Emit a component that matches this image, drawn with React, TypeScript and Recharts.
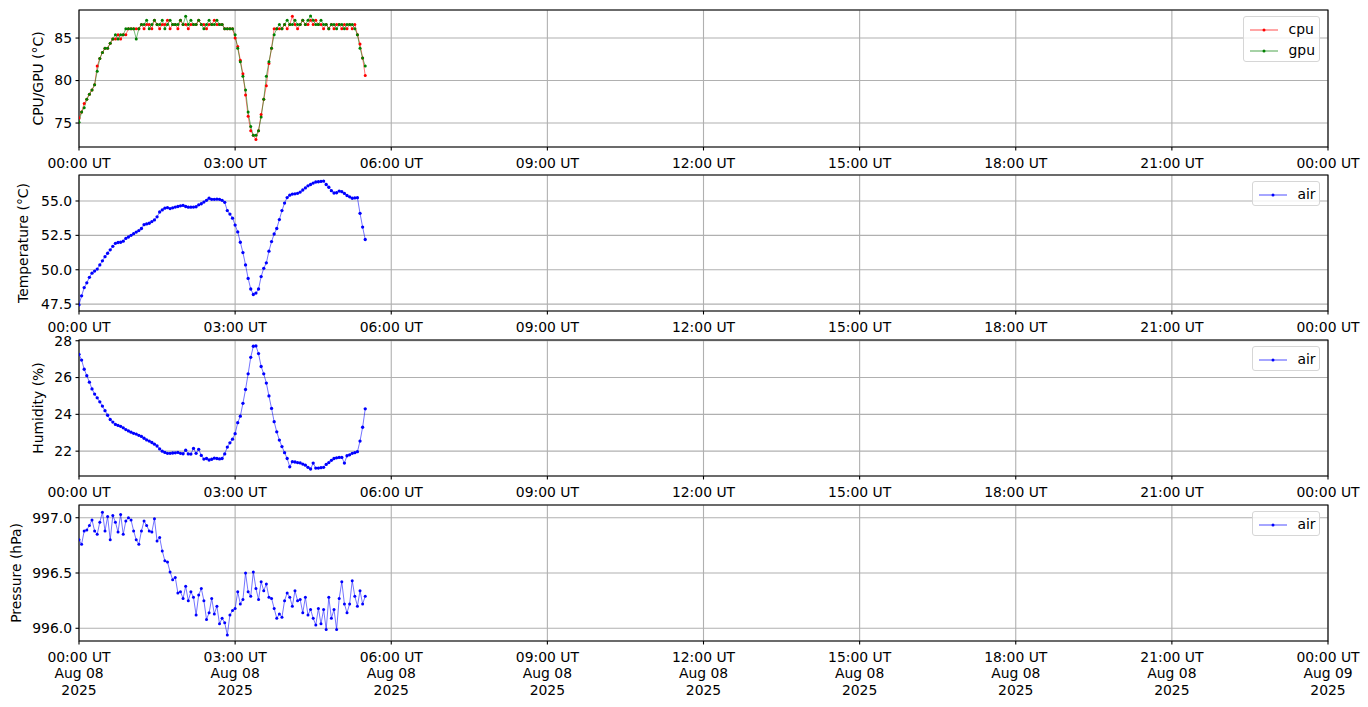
import React from 'react';
import { LineChart, Line, XAxis, YAxis, CartesianGrid, ReferenceArea, Legend } from 'recharts';

const FONT = "'DejaVu Sans', sans-serif";
const FS = 13.9;

// sample times, minutes after 00:00 UT, Aug 08 2025
const minutes = [
  0, 3, 6, 9, 12, 15, 18, 21, 24, 27,
  30, 33, 36, 39, 42, 45, 48, 51, 54, 57,
  60, 63, 66, 69, 72, 75, 78, 81, 84, 87,
  90, 93, 96, 99, 102, 105, 108, 111, 114, 117,
  120, 123, 126, 129, 132, 135, 138, 141, 144, 147,
  150, 153, 156, 159, 162, 165, 168, 171, 174, 177,
  180, 183, 186, 189, 192, 195, 198, 201, 204, 207,
  210, 213, 216, 219, 222, 225, 228, 231, 234, 237,
  240, 243, 246, 249, 252, 255, 258, 261, 264, 267,
  270, 273, 276, 279, 282, 285, 288, 291, 294, 297,
  300, 303, 306, 309, 312, 315, 318, 321, 324, 327,
  330,
];

const cpuTemp = [
  75.6, 76.3, 77.3, 77.8, 78.4, 78.9, 79.5, 81.7, 82.6, 83.3,
  83.8, 83.8, 84.4, 84.9, 84.9, 85.4, 84.9, 85.4, 85.4, 86.1,
  86.1, 86.1, 86.1, 86.1, 86.6, 86.1, 86.6, 86.6, 86.1, 87.1,
  86.6, 86.1, 86.6, 86.6, 87.1, 86.1, 86.6, 86.6, 86.1, 87.1,
  86.6, 86.6, 86.1, 86.6, 86.6, 86.6, 87.1, 86.6, 86.6, 86.1,
  86.6, 86.6, 87.1, 86.6, 86.6, 86.6, 86.1, 86.1, 86.1, 86.1,
  85.0, 84.0, 82.4, 80.8, 78.3, 75.8, 74.1, 73.55, 73.05, 74.1,
  76.0, 77.8, 79.4, 82.0, 83.8, 86.1, 86.1, 86.1, 86.1, 86.6,
  86.1, 86.6, 87.55, 86.6, 86.1, 86.6, 87.1, 86.6, 86.6, 87.1,
  86.6, 87.1, 86.6, 86.6, 86.1, 86.6, 86.1, 86.6, 86.1, 86.6,
  86.6, 86.1, 86.6, 86.1, 86.6, 86.1, 86.6, 85.4, 84.3, 82.65,
  80.6,
];

const gpuTemp = [
  75.1, 76.3, 76.8, 77.8, 78.4, 78.9, 79.5, 81.1, 82.6, 83.3,
  83.8, 83.8, 84.4, 84.9, 85.4, 84.9, 85.4, 85.4, 86.1, 86.1,
  86.1, 86.1, 84.9, 86.1, 86.6, 86.6, 87.1, 86.1, 86.6, 87.1,
  86.6, 86.6, 87.1, 86.1, 86.6, 87.1, 86.6, 86.6, 86.6, 87.1,
  86.6, 87.55, 86.6, 87.1, 86.6, 86.6, 87.1, 86.6, 86.1, 86.6,
  87.1, 86.6, 86.6, 87.1, 86.6, 86.6, 86.1, 86.1, 86.1, 86.1,
  85.4, 83.8, 82.2, 80.5, 78.9, 76.3, 74.6, 73.55, 73.55, 74.1,
  75.7, 77.8, 80.5, 82.2, 83.8, 85.4, 86.1, 86.6, 86.1, 86.6,
  87.1, 86.6, 86.6, 87.1, 86.6, 86.6, 87.1, 86.6, 87.1, 87.6,
  87.1, 86.6, 86.6, 87.1, 86.6, 86.6, 86.1, 86.6, 86.6, 86.1,
  86.6, 86.6, 86.1, 86.6, 86.6, 86.6, 86.1, 85.4, 83.8, 82.65,
  81.7,
];

const airTemp = [
  47.45, 48.1, 48.7, 49.05, 49.45, 49.75, 49.9, 50.05, 50.35, 50.65,
  50.95, 51.2, 51.45, 51.7, 51.92, 51.98, 52.0, 52.08, 52.28, 52.38,
  52.5, 52.62, 52.74, 52.85, 53.0, 53.28, 53.33, 53.38, 53.5, 53.62,
  53.85, 54.2, 54.35, 54.48, 54.52, 54.45, 54.5, 54.56, 54.6, 54.65,
  54.68, 54.6, 54.55, 54.55, 54.56, 54.58, 54.72, 54.8, 54.92, 55.05,
  55.2, 55.12, 55.12, 55.13, 55.12, 55.05, 54.9, 54.3, 54.05, 53.75,
  53.25, 52.75, 52.0, 51.25, 50.35, 49.37, 48.6, 48.2, 48.3, 48.6,
  49.5, 50.1, 50.5, 51.35, 52.05, 52.6, 53.0, 53.65, 54.3, 54.85,
  55.25, 55.42, 55.5, 55.52, 55.56, 55.65, 55.8, 55.95, 56.1, 56.2,
  56.3, 56.38, 56.4, 56.42, 56.45, 56.2, 56.0, 55.75, 55.58, 55.6,
  55.72, 55.68, 55.55, 55.4, 55.3, 55.2, 55.22, 55.24, 54.1, 53.1,
  52.2,
];

const airHumidity = [
  27.26, 26.95, 26.45, 26.1, 25.75, 25.38, 25.1, 24.9, 24.68, 24.45,
  24.2, 23.95, 23.72, 23.58, 23.45, 23.4, 23.35, 23.27, 23.17, 23.1,
  23.03, 22.97, 22.93, 22.86, 22.8, 22.7, 22.61, 22.55, 22.47, 22.38,
  22.28, 22.12, 22.0, 21.93, 21.88, 21.88, 21.9, 21.91, 21.93, 21.88,
  21.86, 22.05, 21.85, 21.84, 22.15, 21.88, 22.1, 21.77, 21.57, 21.6,
  21.52, 21.56, 21.62, 21.6, 21.58, 21.6, 21.85, 22.22, 22.45, 22.65,
  22.95, 23.55, 23.9, 24.6, 25.35, 26.2, 27.1, 27.7, 27.72, 27.3,
  26.6, 26.2, 25.7, 25.0, 24.32, 23.6, 23.05, 22.6, 22.25, 21.92,
  21.6, 21.15, 21.43, 21.41, 21.38, 21.36, 21.3, 21.24, 21.12, 21.03,
  21.35, 21.08, 21.08, 21.1, 21.12, 21.28, 21.38, 21.5, 21.6, 21.64,
  21.66, 21.66, 21.35, 21.75, 21.8, 21.88, 21.92, 21.97, 22.55, 23.3,
  24.3,
];

const airPressure = [
  996.80, 996.76, 996.88, 996.89, 996.93, 996.98, 996.88, 996.85, 996.96, 997.05,
  996.88, 997.01, 996.80, 997.02, 996.96, 996.87, 997.03, 996.85, 996.97, 997.00,
  996.98, 996.88, 996.80, 996.76, 996.88, 996.97, 996.93, 996.88, 996.87, 996.99,
  996.79, 996.82, 996.70, 996.61, 996.60, 996.51, 996.44, 996.46, 996.32, 996.33,
  996.27, 996.38, 996.25, 996.33, 996.28, 996.12, 996.30, 996.36, 996.25, 996.08,
  996.14, 996.27, 996.13, 996.20, 996.04, 996.09, 996.05, 995.94, 996.12, 996.16,
  996.18, 996.33, 996.22, 996.26, 996.50, 996.33, 996.29, 996.51, 996.36, 996.26,
  996.42, 996.34, 996.40, 996.28, 996.27, 996.18, 996.09, 996.13, 996.10, 996.25,
  996.32, 996.28, 996.20, 996.34, 996.25, 996.26, 996.14, 996.28, 996.12, 996.17,
  996.09, 996.03, 996.18, 996.04, 996.17, 995.99, 996.28, 996.09, 996.17, 995.99,
  996.27, 996.42, 996.22, 996.14, 996.22, 996.43, 996.29, 996.20, 996.34, 996.22,
  996.29,
];

const tickHours = [0, 3, 6, 9, 12, 15, 18, 21, 24];
const timeLabels = ['00:00 UT', '03:00 UT', '06:00 UT', '09:00 UT', '12:00 UT', '15:00 UT', '18:00 UT', '21:00 UT', '00:00 UT'];
const dateLabels = ['Aug 08', 'Aug 08', 'Aug 08', 'Aug 08', 'Aug 08', 'Aug 08', 'Aug 08', 'Aug 08', 'Aug 09'];
const yearLabels = ['2025', '2025', '2025', '2025', '2025', '2025', '2025', '2025', '2025'];

const chipTicks = [75, 80, 85];
const tempTicks = [47.5, 50, 52.5, 55];
const humTicks = [22, 24, 26, 28];
const presTicks = [996, 996.5, 997];

const rows = minutes.map((m, i) => ({
  h: m / 60,
  cpu: cpuTemp[i],
  gpu: gpuTemp[i],
  temp: airTemp[i],
  hum: airHumidity[i],
  pres: airPressure[i],
}));

type Series = { key: string; name: string; color: string };

const makeXTick = (multi: boolean) => (props: any) => {
  const { x, y, payload } = props;
  const i = tickHours.indexOf(payload.value);
  return (
    <text x={x} y={y + 17.2} textAnchor="middle" fill="#000" fontSize={FS} fontFamily={FONT}>
      <tspan x={x}>{timeLabels[i]}</tspan>
      {multi ? <tspan x={x} dy={16.5}>{dateLabels[i]}</tspan> : null}
      {multi ? <tspan x={x} dy={16.5}>{yearLabels[i]}</tspan> : null}
    </text>
  );
};

const LegendBox = ({ series, width, height }: { series: Series[]; width: number; height: number }) => (
  <div
    style={{
      position: 'relative',
      width,
      height,
      boxSizing: 'border-box',
      border: '1px solid #d6d6d6',
      borderRadius: 3,
      background: 'rgba(255,255,255,0.8)',
      fontFamily: FONT,
      fontSize: FS,
      color: '#000',
    }}
  >
    {series.map((s, i) => (
      <div key={s.key} style={{ position: 'absolute', left: 0, top: 4.5 + i * 21.5, height: 16, width: '100%' }}>
        <svg width={30} height={16} style={{ position: 'absolute', left: 5.5, top: 0 }}>
          <line x1={0} y1={8} x2={28} y2={8} stroke={s.color} strokeWidth={0.7} />
          <circle cx={14} cy={8} r={1.5} fill={s.color} />
        </svg>
        <span style={{ position: 'absolute', left: 44.5, top: -1, lineHeight: '16px', whiteSpace: 'nowrap' }}>{s.name}</span>
      </div>
    ))}
  </div>
);

type PanelProps = {
  top: number;
  plotH: number;
  multi: boolean;
  domain: [number, number];
  ticks: number[];
  fmt: (v: number) => string;
  label: string;
  labelX: number;
  series: Series[];
  dotR: number;
  legendLeft: number;
  legendW: number;
  legendH: number;
};

const Panel = (p: PanelProps) => {
  const xh = p.multi ? 64 : 24;
  const mTop = 6;
  const height = mTop + p.plotH + xh;
  const cy = mTop + p.plotH / 2;
  return (
    <div style={{ position: 'absolute', left: 0, top: p.top - mTop, width: 1368, height }}>
      <LineChart width={1368} height={height} data={rows} margin={{ top: mTop, right: 40, left: 0, bottom: 0 }}>
        <CartesianGrid stroke="#b0b0b0" strokeWidth={1.1} />
        <XAxis
          dataKey="h"
          type="number"
          domain={[0, 24]}
          ticks={tickHours}
          interval={0}
          allowDataOverflow
          height={xh}
          axisLine={false}
          tickSize={3.5}
          tickMargin={0}
          tickLine={{ stroke: '#000', strokeWidth: 1.1 }}
          tick={makeXTick(p.multi)}
        />
        <YAxis
          type="number"
          domain={p.domain}
          ticks={p.ticks}
          interval={0}
          allowDataOverflow
          width={79}
          axisLine={false}
          tickSize={3.5}
          tickMargin={3.5}
          tickLine={{ stroke: '#000', strokeWidth: 1.1 }}
          tick={{ fill: '#000', fontSize: FS, fontFamily: FONT }}
          tickFormatter={p.fmt}
          label={() => (
            <text
              x={p.labelX}
              y={cy}
              transform={`rotate(-90, ${p.labelX}, ${cy})`}
              textAnchor="middle"
              fill="#000"
              fontSize={FS}
              fontFamily={FONT}
            >
              {p.label}
            </text>
          )}
        />
        {p.series.map((s) => (
          <Line
            key={s.key}
            type="linear"
            dataKey={s.key}
            name={s.name}
            stroke={s.color}
            strokeWidth={0.55}
            dot={{ r: p.dotR, fill: s.color, stroke: 'none', strokeWidth: 0 }}
            activeDot={false}
            isAnimationActive={false}
          />
        ))}
        <ReferenceArea
          x1={0}
          x2={24}
          y1={p.domain[0]}
          y2={p.domain[1]}
          fill="none"
          stroke="#000"
          strokeWidth={1.1}
          ifOverflow="visible"
        />
        <Legend
          layout="horizontal"
          verticalAlign="middle"
          align="center"
          wrapperStyle={{ left: p.legendLeft, top: mTop + 6, width: p.legendW, height: p.legendH }}
          content={() => <LegendBox series={p.series} width={p.legendW} height={p.legendH} />}
        />
      </LineChart>
    </div>
  );
};

const intFmt = (v: number) => String(Math.round(v));
const oneFmt = (v: number) => v.toFixed(1);

export default function App() {
  return (
    <div style={{ position: 'absolute', left: 0, top: 0, width: 1368, height: 707, background: '#fff', overflow: 'hidden' }}>
      <Panel
        top={10}
        plotH={137}
        multi={false}
        domain={[72.18, 88.3]}
        ticks={chipTicks}
        fmt={intFmt}
        label="CPU/GPU (°C)"
        labelX={42.7}
        series={[
          { key: 'cpu', name: 'cpu', color: '#ff0000' },
          { key: 'gpu', name: 'gpu', color: '#008000' },
        ]}
        dotR={1.5}
        legendLeft={1243}
        legendW={77}
        legendH={46}
      />
      <Panel
        top={175}
        plotH={136}
        multi={false}
        domain={[47.0, 56.89]}
        ticks={tempTicks}
        fmt={oneFmt}
        label="Temperature (°C)"
        labelX={27.7}
        series={[{ key: 'temp', name: 'air', color: '#0000ff' }]}
        dotR={1.65}
        legendLeft={1252}
        legendW={68}
        legendH={25}
      />
      <Panel
        top={340}
        plotH={136}
        multi={false}
        domain={[20.65, 28.04]}
        ticks={humTicks}
        fmt={intFmt}
        label="Humidity (%)"
        labelX={42.7}
        series={[{ key: 'hum', name: 'air', color: '#0000ff' }]}
        dotR={1.65}
        legendLeft={1252}
        legendW={68}
        legendH={25}
      />
      <Panel
        top={505}
        plotH={136}
        multi={true}
        domain={[995.885, 997.115]}
        ticks={presTicks}
        fmt={oneFmt}
        label="Pressure (hPa)"
        labelX={20.7}
        series={[{ key: 'pres', name: 'air', color: '#0000ff' }]}
        dotR={1.5}
        legendLeft={1252}
        legendW={68}
        legendH={25}
      />
    </div>
  );
}
